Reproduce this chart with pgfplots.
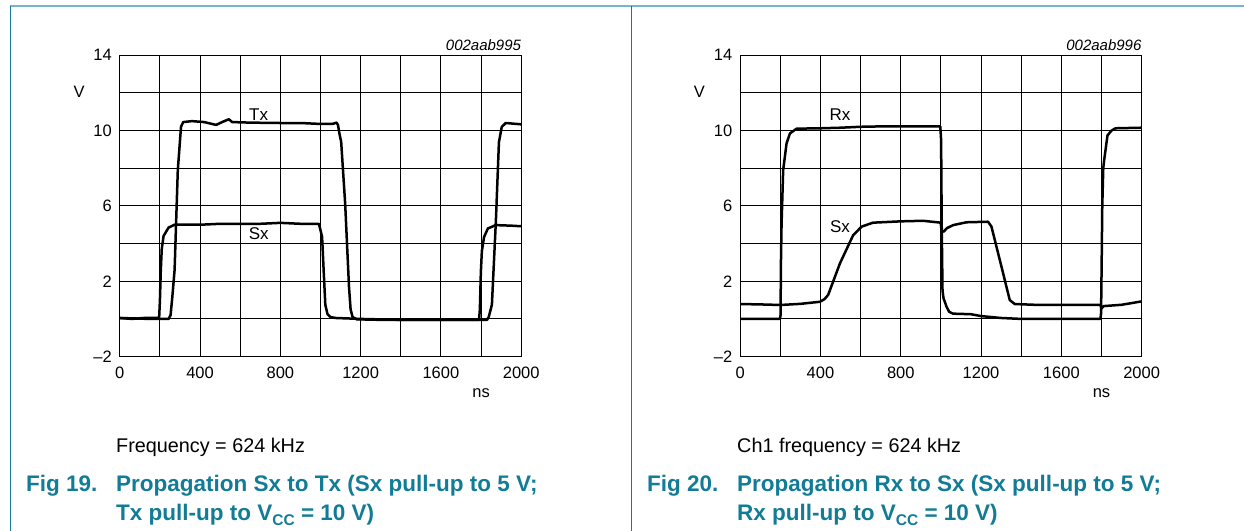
\documentclass[border=0pt]{standalone}
\usepackage{fontspec}
\setmainfont{Liberation Sans}
\usepackage{xcolor}
\usepackage{pgfplots}
\pgfplotsset{compat=1.18}

\definecolor{nxpteal}{RGB}{18,124,150}
\definecolor{framelight}{RGB}{118,182,202}
\definecolor{framedark}{RGB}{22,122,148}

\newcommand{\tickfont}{\fontsize{16.5bp}{18bp}\selectfont}
\newcommand{\notefont}{\fontsize{19.8bp}{22bp}\selectfont}
\newcommand{\titlefont}{\fontsize{22.5bp}{25bp}\selectfont\bfseries}
\newcommand{\subfont}{\fontsize{15.5bp}{15bp}\selectfont\bfseries}

\pgfplotsset{
  curve/.style={black, line width=2.5bp, line join=round, no marks},
  scope/.style={
    scale only axis, width=401.4bp, height=301.4bp,
    xmin=0, xmax=2000, ymin=-2, ymax=14,
    xtick={0,400,...,2000}, xticklabels={0,400,800,1200,1600,2000},
    minor xtick={200,600,...,1800},
    ytick={-2,2,6,10,14}, yticklabels={–2,2,6,10,14},
    minor ytick={0,4,8,12},
    grid=both,
    grid style={black, line width=0.9bp},
    minor grid style={black, line width=0.9bp},
    axis line style={black, line width=1bp},
    major tick length=0pt, minor tick length=0pt,
    tick label style={font=\tickfont},
    xticklabel style={yshift=-7bp},
    yticklabel style={xshift=-4.5bp},
    clip=false,
  }
}

\begin{document}
\begin{tikzpicture}
\path[use as bounding box] (0,0) rectangle (1244bp,531bp);
% frame
\draw[framelight, line width=1.8bp] (10bp,525.3bp) -- (1244bp,525.3bp);
\draw[framedark, line width=1.4bp] (10.3bp,525.3bp) -- (10.3bp,0);
\draw[framedark, line width=1.4bp] (631.3bp,525.3bp) -- (631.3bp,0);

% ---- Fig 19: Sx to Tx
\begin{axis}[scope, at={(119.8bp,174.4bp)}, anchor=south west]
% Sx
\addplot[curve] coordinates {
(0,0.05) (60,0.0) (120,0.05) (196,0.05) (200,1.0) (204,2.5) (209,3.7) (218,4.4)
(243,4.85) (273,5.0) (400,5.0) (500,5.05) (600,5.05) (700,5.05) (800,5.1) (900,5.05)
(992,5.05) (998,4.8) (1008,4.35) (1016,2.5) (1024,0.75) (1035,0.25) (1050,0.1) (1075,0.05)
(1200,0.0) (1400,-0.05) (1600,-0.05) (1790,-0.05) (1794,0.5) (1799,2.5) (1804,3.6)
(1815,4.35) (1834,4.8) (1873,4.98) (1950,4.95) (2000,4.92)};
% Tx
\addplot[curve] coordinates {
(0,0.05) (150,0.0) (243,0.0) (253,0.2) (262,1.2) (273,2.6) (289,7.9) (305,10.2)
(316,10.45) (360,10.5) (420,10.45) (460,10.35) (480,10.3) (510,10.45) (543,10.6)
(560,10.45) (650,10.42) (800,10.4) (900,10.4) (1000,10.35) (1060,10.35) (1080,10.42)
(1087,10.3) (1095,9.8) (1103,9.4) (1123,6.1) (1142,1.7) (1150,0.5) (1160,0.1) (1180,-0.02)
(1300,-0.05) (1500,-0.05) (1700,-0.05) (1830,-0.05) (1838,0.1) (1854,0.75) (1874,5.24)
(1889,9.38) (1903,10.19) (1923,10.4) (2000,10.33)};
\node[font=\fontsize{17bp}{19bp}\selectfont] at (axis cs:692,10.87) {Tx};
\node[font=\fontsize{17bp}{19bp}\selectfont] at (axis cs:692,4.53) {Sx};
\node[font=\tickfont] at (axis cs:-203,12.05) {V};
\node[font=\tickfont] at (axis cs:1800,-3.96) {ns};
\node[font=\fontsize{15bp}{17bp}\selectfont\itshape, anchor=east, inner sep=0pt] at (axis cs:2000,14.54) {002aab995};
\end{axis}

% ---- Fig 20: Rx to Sx
\begin{axis}[scope, at={(740.2bp,174.4bp)}, anchor=south west]
% Rx
\addplot[curve] coordinates {
(0,0.0) (198,0.0) (201,0.2) (203,3) (206,5.0) (214,7.9) (231,9.32) (248,9.85)
(281,10.1) (400,10.12) (500,10.15) (600,10.2) (700,10.22) (800,10.22) (900,10.22)
(997,10.22) (1001,9.5) (1004,5) (1008,1.5) (1013,1.1) (1028,0.65) (1041,0.38)
(1060,0.28) (1150,0.25) (1200,0.15) (1300,0.05) (1400,0.0) (1600,0.0) (1795,0.0)
(1798,0.3) (1801,3) (1804,6) (1809,8.0) (1813,8.4) (1830,9.74) (1850,10.0) (1870,10.12)
(2000,10.15)};
% Sx
\addplot[curve] coordinates {
(0,0.79) (100,0.77) (201,0.74) (300,0.8) (397,0.91) (420,1.05) (438,1.27) (497,2.95)
(563,4.45) (605,4.9) (662,5.11) (800,5.18) (911,5.21) (999,5.11) (1003,4.7)
(1014,4.63) (1030,4.82) (1061,4.98) (1127,5.13) (1235,5.16) (1252,4.9) (1310,2.42)
(1343,1.0) (1368,0.79) (1492,0.74) (1600,0.74) (1795,0.74) (1800,0.55) (1810,0.68)
(1900,0.75) (2000,0.93)};
\node[font=\fontsize{17bp}{19bp}\selectfont] at (axis cs:497,10.87) {Rx};
\node[font=\fontsize{17bp}{19bp}\selectfont] at (axis cs:497,4.89) {Sx};
\node[font=\tickfont] at (axis cs:-203,12.05) {V};
\node[font=\tickfont] at (axis cs:1800,-3.96) {ns};
\node[font=\fontsize{15bp}{17bp}\selectfont\itshape, anchor=east, inner sep=0pt] at (axis cs:2000,14.54) {002aab996};
\end{axis}

% notes and captions
\node[font=\notefont, anchor=base west, inner sep=0pt] at (116bp,78bp) {Frequency = 624 kHz};
\node[font=\notefont, anchor=base west, inner sep=0pt] at (737bp,78bp) {Ch1 frequency = 624 kHz};

\node[font=\titlefont, text=nxpteal, anchor=base west, inner sep=0pt] at (26bp,39.3bp) {Fig 19.};
\node[font=\titlefont, text=nxpteal, anchor=base west, inner sep=0pt] at (116bp,39.3bp) {Propagation Sx to Tx (Sx pull-up to 5 V;};
\node[font=\titlefont, text=nxpteal, anchor=base west, inner sep=0pt] at (116bp,10.5bp) {Tx pull-up to V\raisebox{-0.22em}{\subfont CC} = 10 V)};

\node[font=\titlefont, text=nxpteal, anchor=base west, inner sep=0pt] at (647bp,39.3bp) {Fig 20.};
\node[font=\titlefont, text=nxpteal, anchor=base west, inner sep=0pt] at (737bp,39.3bp) {Propagation Rx to Sx (Sx pull-up to 5 V;};
\node[font=\titlefont, text=nxpteal, anchor=base west, inner sep=0pt] at (737bp,10.5bp) {Rx pull-up to V\raisebox{-0.22em}{\subfont CC} = 10 V)};
\end{tikzpicture}
\end{document}
